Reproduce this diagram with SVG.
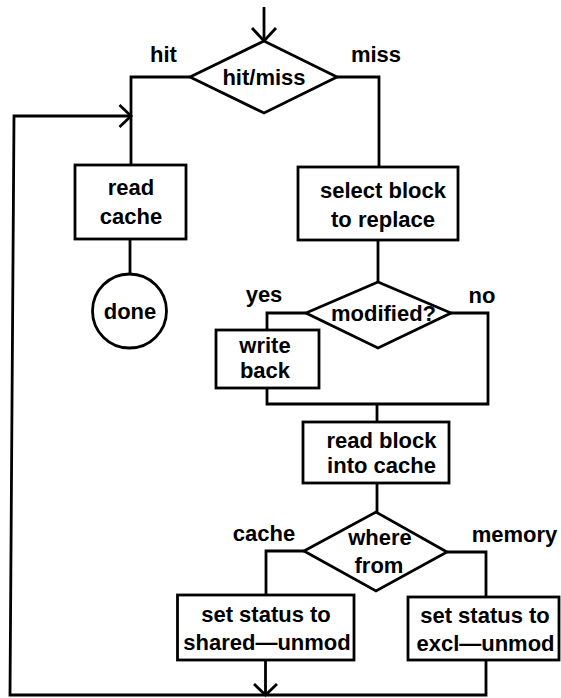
<svg xmlns="http://www.w3.org/2000/svg" width="561" height="698" viewBox="0 0 561 698">
<style>
.shape{fill:#fff;stroke:#000;stroke-width:2.8;stroke-linejoin:miter}
.wire{fill:none;stroke:#000;stroke-width:2.8;stroke-linejoin:miter}
.arr{fill:none;stroke:#000;stroke-width:2.8;stroke-linejoin:miter}
text{font-family:"Liberation Sans",Arial,sans-serif;font-weight:bold;font-size:22px;fill:#000;text-anchor:middle}
</style>
<rect width="561" height="698" fill="#fff"/>
<g id="connectors">
<path class="wire" d="M264 7 V41"/>
<path class="arr" d="M252 28 L264 41 L276 28"/>
<path class="wire" d="M190 77 H131 V165"/>
<path class="wire" d="M337 77 H379 V167"/>
<path class="wire" d="M130 239 V274"/>
<path class="wire" d="M378 240 V282"/>
<path class="wire" d="M306 313 H267 V330"/>
<path class="wire" d="M451 313 H488 V404 H267 V388"/>
<path class="wire" d="M377 404 V422"/>
<path class="wire" d="M377 483 V512"/>
<path class="wire" d="M304 551 H266 V595"/>
<path class="wire" d="M447 552 H486 V597"/>
<path class="wire" d="M265.5 660 V695"/>
<path class="arr" d="M254 684 L265.5 695 L277 684"/>
<path class="wire" d="M486 660 V695 H10 L14 116 H131"/>
<path class="arr" d="M119.5 105 L131 116 L119.5 127"/>
<text x="163.5" y="62">hit</text>
<text x="376" y="62">miss</text>
<text x="264" y="301.5">yes</text>
<text x="482" y="303">no</text>
<text x="264" y="541">cache</text>
<text x="514.5" y="542">memory</text>
</g>
<g id="hitmiss">
<polygon class="shape" points="190,77 264,41 337,77 264,113"/>
<text x="264" y="85">hit/miss</text>
</g>
<g id="readcache">
<rect class="shape" x="75" y="165" width="111" height="74"/>
<text x="131" y="195">read</text>
<text x="131" y="224">cache</text>
</g>
<g id="done">
<circle class="shape" cx="129.5" cy="311" r="37"/>
<text x="130" y="319">done</text>
</g>
<g id="selectblock">
<rect class="shape" x="298" y="167" width="160" height="73"/>
<text x="383" y="198">select block</text>
<text x="383" y="227">to replace</text>
</g>
<g id="modified">
<polygon class="shape" points="306,313 378,282 451,313 378,348"/>
<text x="383.5" y="321">modified?</text>
</g>
<g id="writeback">
<rect class="shape" x="216" y="330" width="103" height="58"/>
<text x="265" y="353">write</text>
<text x="265" y="377.5">back</text>
</g>
<g id="readblock">
<rect class="shape" x="303" y="422" width="146" height="61"/>
<text x="381.5" y="447.5">read block</text>
<text x="381.5" y="473.3">into cache</text>
</g>
<g id="wherefrom">
<polygon class="shape" points="304,551 376,512 447,552 376,591"/>
<text x="380" y="545">where</text>
<text x="379" y="573">from</text>
</g>
<g id="shared">
<rect class="shape" x="177.5" y="595" width="176.5" height="65"/>
<text x="266" y="622">set status to</text>
<text x="267" y="650">shared—unmod</text>
</g>
<g id="excl">
<rect class="shape" x="408" y="597" width="151" height="63"/>
<text x="485" y="622.5">set status to</text>
<text x="485.5" y="651">excl—unmod</text>
</g>
</svg>
